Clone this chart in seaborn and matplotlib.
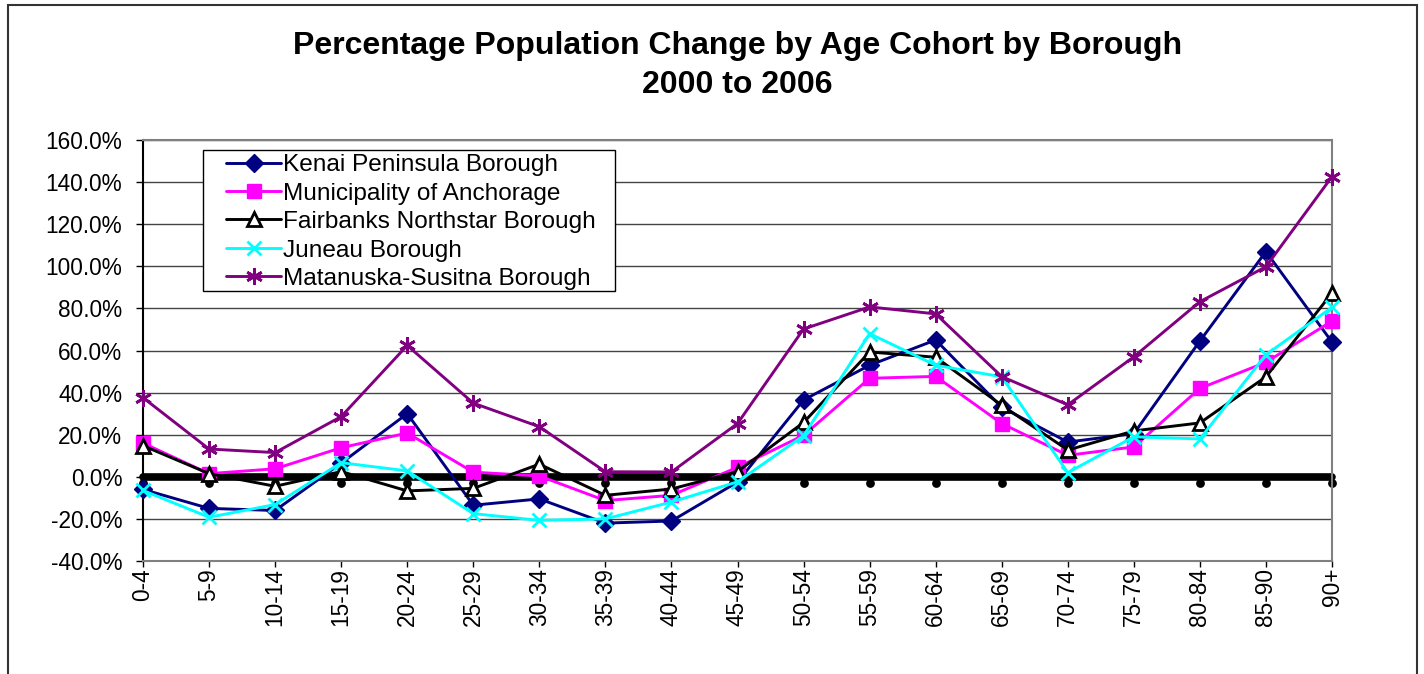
import numpy as np
import pandas as pd
import matplotlib
matplotlib.use('Agg')
import matplotlib.pyplot as plt
from matplotlib.lines import Line2D
from matplotlib.patches import Rectangle
from matplotlib.ticker import FuncFormatter
import seaborn as sns

# Leeftijdsgroepen (x-as)
cohorts = ['0-4', '5-9', '10-14', '15-19', '20-24', '25-29', '30-34', '35-39',
           '40-44', '45-49', '50-54', '55-59', '60-64', '65-69', '70-74',
           '75-79', '80-84', '85-90', '90+']

# Procentuele verandering per borough
kenai = [-6, -15, -16, 6.5, 30, -13.5, -10.5, -22, -21, -2.5, 36.5, 53, 65,
         33, 16.5, 20.5, 64.5, 107, 64]
anchorage = [16, 1.5, 3.8, 13.8, 20.8, 2.2, 0.4, -11.3, -8.8, 4.5, 19.7, 46.8,
             47.7, 25.3, 10.2, 14.2, 42, 54.4, 74]
fairbanks = [14.8, 1.5, -4.5, 2.5, -6.7, -5.5, 6, -8.8, -5.8, 2.5, 25.8, 59.3,
             56.8, 34, 12.7, 21.8, 25.6, 47.5, 87.3]
juneau = [-6.5, -19.2, -13.2, 6.7, 2.8, -17.5, -20.7, -20, -12, -2.4, 19.5,
          68, 53, 47.5, 2, 19, 18, 58, 80.5]
matsu = [37.6, 13.2, 11.5, 28.6, 62.4, 35, 23.8, 2.4, 2.3, 25.3, 70.2, 80.7,
         77.4, 47.6, 34.2, 57, 83.2, 99.8, 142.6]

# Dikke nullijn met punten eronder
baseline = [0] * len(cohorts)
baseline_dots = [-3] * len(cohorts)

series = [
    ('Kenai Peninsula Borough', kenai, '#000080', 'D', '#000080', 9.5),
    ('Municipality of Anchorage', anchorage, '#FF00FF', 's', '#FF00FF', 10.5),
    ('Fairbanks Northstar Borough', fairbanks, 'black', '^', 'white', 10),
    ('Juneau Borough', juneau, '#00FFFF', 'x', '#00FFFF', 10),
    ('Matanuska-Susitna Borough', matsu, '#800080', (6, 2, 0), '#800080', 12),
]

sns.set_style('white')
plt.rcParams['font.family'] = ['Liberation Sans', 'DejaVu Sans']
plt.rcParams['text.color'] = 'black'

fig = plt.figure(figsize=(14.24, 6.74), dpi=100)
ax = fig.add_axes([143 / 1424, 1 - 561 / 674, (1332 - 143) / 1424, 421 / 674])

# Buitenrand van de grafiek
fig.patches.append(Rectangle((8 / 1424, -0.05), 1409 / 1424, 1.05 - 5 / 674,
                             transform=fig.transFigure, fill=False,
                             edgecolor='#333333', linewidth=1.5))

pos = np.arange(len(cohorts))

sns.lineplot(x=pos, y=baseline, ax=ax, color='black', linewidth=5.5,
             zorder=2, clip_on=False)
sns.scatterplot(x=pos, y=baseline_dots, ax=ax, color='black', s=40,
                linewidth=0, zorder=2, clip_on=False)

handles = []
for i, (name, vals, col, mk, face, ms) in enumerate(series):
    mew = 2 if mk in ('^', 'x', (6, 2, 0)) else 1
    sns.lineplot(x=pos, y=vals, ax=ax, color=col, linewidth=2.1, marker=mk,
                 markersize=ms, markerfacecolor=face, markeredgecolor=col,
                 markeredgewidth=mew, zorder=3 + i, clip_on=False)
    handles.append(Line2D([], [], color=col, linewidth=2.1, marker=mk,
                          markersize=ms, markerfacecolor=face,
                          markeredgecolor=col, markeredgewidth=mew,
                          label=name))

ax.set_xlim(0, len(cohorts) - 1)
ax.set_ylim(-40, 160)
ax.set_yticks(np.arange(-40, 161, 20))
ax.yaxis.set_major_formatter(FuncFormatter(lambda v, p: f'{v:.1f}%'))
ax.set_xticks(pos)
ax.set_xticklabels(cohorts, rotation=90)
ax.grid(axis='y', color='#444444', linewidth=1)
ax.set_axisbelow(True)

for side in ['top', 'right', 'bottom']:
    ax.spines[side].set_color('#808080')
    ax.spines[side].set_linewidth(1.5)
ax.spines['left'].set_color('black')
ax.spines['left'].set_linewidth(1.5)

ax.tick_params(axis='y', direction='out', length=5, width=1, pad=10,
               labelsize=16.3, left=True, colors='black')
ax.tick_params(axis='x', direction='out', length=4, width=1, pad=1,
               labelsize=16.3, bottom=True, colors='black')

ax.set_xlabel('')
ax.set_ylabel('')

# Legenda zonder eigen kader, kader apart getekend
leg = ax.legend(handles=handles, loc='upper left',
                bbox_to_anchor=(226 / 1424, 1 - 154 / 674),
                bbox_transform=fig.transFigure, fontsize=17.6, frameon=False,
                handlelength=2.25, handletextpad=0.08, labelspacing=0.26,
                borderpad=0, borderaxespad=0)
leg.set_zorder(20)
ax.add_artist(Rectangle((203 / 1424, 1 - 291 / 674), 412 / 1424, 141 / 674,
                        transform=fig.transFigure, facecolor='white',
                        edgecolor='black', linewidth=1, zorder=19,
                        clip_on=False))

fig.text(737.5 / 1424, 1 - 46 / 674, 'Percentage Population Change by Age Cohort by Borough',
         ha='center', va='center', fontsize=23, fontweight='bold', color='black')
fig.text(737.5 / 1424, 1 - 85 / 674, '2000 to 2006',
         ha='center', va='center', fontsize=23, fontweight='bold', color='black')

fig.savefig('out.png', dpi=100)
